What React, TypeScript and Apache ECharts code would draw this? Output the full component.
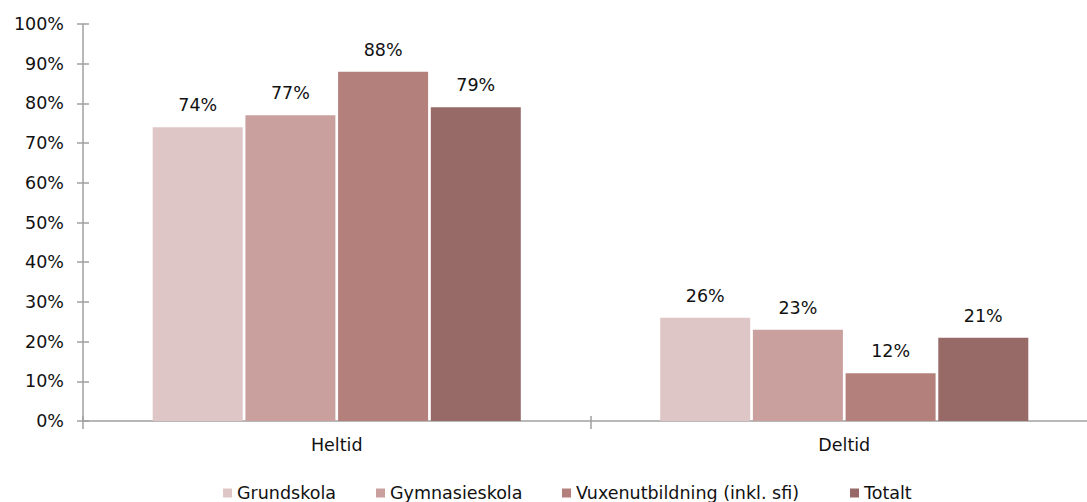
import React, { useEffect, useRef } from "react";
import * as echarts from "echarts";

const categories = ["Heltid", "Deltid"];
const seriesNames = ["Grundskola", "Gymnasieskola", "Vuxenutbildning (inkl. sfi)", "Totalt"];
const grundskola = [74, 26];
const gymnasieskola = [77, 23];
const vuxenutbildning = [88, 12];
const totalt = [79, 21];
const seriesValues = [grundskola, gymnasieskola, vuxenutbildning, totalt];
const colors = ["#dfc6c6", "#c9a09e", "#b3807c", "#976a68"];
const legendLefts = [218, 371, 557, 845];

const FONT = "DejaVu Sans";
const FS = 17.5;

export default function App() {
  const ref = useRef<HTMLDivElement>(null);
  useEffect(() => {
    if (!ref.current) return;
    const chart = echarts.init(ref.current, null, { renderer: "svg" });
    const axisColor = "#a0a0a0";
    chart.setOption({
      animation: false,
      backgroundColor: "#ffffff",
      textStyle: { fontFamily: FONT },
      grid: { left: 83, right: 0, top: 24, bottom: 81, containLabel: false },
      legend: seriesNames.map((name, i) => ({
        data: [name],
        left: legendLefts[i],
        top: 479,
        itemWidth: 9,
        itemHeight: 9,
        icon: "rect",
        textStyle: { fontFamily: FONT, fontSize: FS, color: "#111" },
      })),
      xAxis: [
        {
          type: "category",
          data: categories,
          axisLine: { show: true, lineStyle: { color: axisColor, width: 1.5 } },
          axisTick: { show: true, length: 8, lineStyle: { color: axisColor, width: 1.5 } },
          axisLabel: { fontFamily: FONT, fontSize: FS, color: "#111", margin: 15 },
        },
        {
          type: "category",
          data: categories,
          position: "bottom",
          axisLine: { show: false },
          axisTick: { show: true, inside: true, length: 5, lineStyle: { color: axisColor, width: 1.5 } },
          axisLabel: { show: false },
        },
      ],
      yAxis: [
        {
          type: "value",
          min: 0,
          max: 100,
          interval: 10,
          splitLine: { show: false },
          axisLine: { show: true, lineStyle: { color: axisColor, width: 1.5 } },
          axisTick: { show: true, length: 6, lineStyle: { color: axisColor, width: 1.5 } },
          axisLabel: { fontFamily: FONT, fontSize: FS, color: "#111", margin: 19, formatter: "{value}%" },
        },
        {
          type: "value",
          min: 0,
          max: 100,
          interval: 10,
          position: "left",
          splitLine: { show: false },
          axisLine: { show: false },
          axisTick: { show: true, inside: true, length: 6, lineStyle: { color: axisColor, width: 1.5 } },
          axisLabel: { show: false },
        },
      ],
      series: seriesNames.map((name, i) => ({
        name,
        type: "bar",
        xAxisIndex: 0,
        yAxisIndex: 0,
        data: seriesValues[i],
        barWidth: 90,
        barGap: "3%",
        itemStyle: { color: colors[i] },
        label: {
          show: true,
          position: "top",
          distance: 13,
          formatter: "{c}%",
          fontFamily: FONT,
          fontSize: FS,
          color: "#111",
        },
      })),
    });
    return () => chart.dispose();
  }, []);
  return (
    <div style={{ position: "fixed", left: 0, top: 0, width: 1087, height: 502, overflow: "hidden", background: "#fff" }}>
      <div ref={ref} style={{ width: 1098, height: 502 }} />
    </div>
  );
}
